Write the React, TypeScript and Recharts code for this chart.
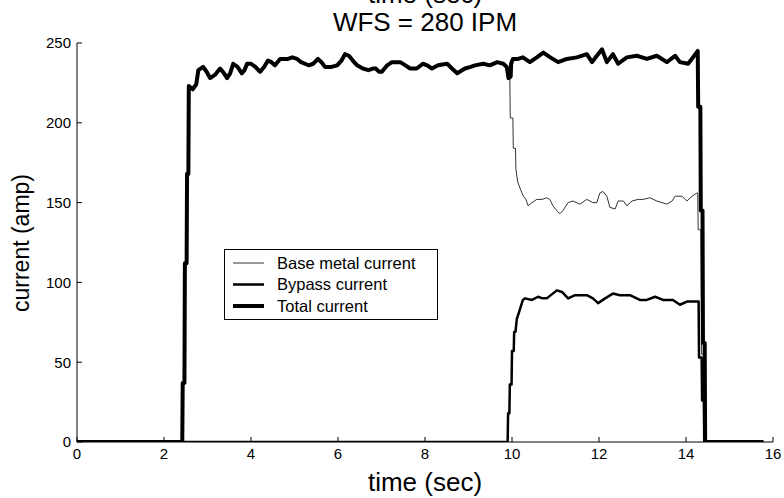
import { Legend, Line, LineChart, XAxis, YAxis } from "recharts";

// time in seconds, current in amps
const xTicks = [0, 2, 4, 6, 8, 10, 12, 14, 16];
const yTicks = [0, 50, 100, 150, 200, 250];

const totalTime = [
  0, 2.42, 2.43, 2.47, 2.48, 2.52, 2.53, 2.56, 2.57, 2.66, 2.74, 2.79, 2.9, 2.98, 3.06, 3.17, 3.29, 3.38,
  3.45, 3.52, 3.59, 3.69, 3.79, 3.85, 3.91, 4.0, 4.1, 4.21, 4.3, 4.39, 4.47, 4.55, 4.67, 4.85, 4.95,
  5.06, 5.15, 5.24, 5.33, 5.43, 5.54, 5.62, 5.7, 5.85, 5.98, 6.08, 6.16, 6.25, 6.34, 6.44, 6.57, 6.7,
  6.8, 6.87, 6.94, 7.01, 7.13, 7.24, 7.43, 7.55, 7.66, 7.81, 7.95, 8.05, 8.16, 8.3, 8.51, 8.62, 8.74,
  8.92, 9.05, 9.15, 9.34, 9.49, 9.66, 9.8, 9.88, 9.92, 9.97, 9.98, 10.02, 10.14, 10.25, 10.41, 10.57,
  10.72, 10.88, 11.06, 11.26, 11.49, 11.72, 11.84, 11.95, 12.07, 12.18, 12.32, 12.44, 12.64, 12.87,
  13.1, 13.33, 13.56, 13.75, 13.86, 14.05, 14.16, 14.27, 14.28, 14.33, 14.34, 14.38, 14.39, 14.43,
  14.44, 15.78,
];
const totalAmp = [
  0, 0, 37, 37, 112, 112, 168, 168, 223, 221, 224, 233, 235, 232, 228, 230, 234, 231,
  228, 231, 237, 235, 231, 233, 237, 237, 235, 232, 235, 239, 238, 236, 240, 240, 241,
  240, 238, 237, 236, 237, 240, 238, 235, 235, 236, 239, 243, 242, 239, 236, 234, 233,
  234, 234, 232, 232, 236, 238, 238, 236, 234, 234, 237, 236, 234, 236, 237, 234, 231,
  234, 235, 236, 237, 236, 238, 237, 235, 228, 229, 237, 240, 240, 241, 238, 241,
  244, 241, 238, 240, 241, 243, 238, 242, 246, 238, 243, 237, 241, 242,
  240, 242, 238, 242, 238, 237, 241, 245, 210, 210, 145, 145, 62, 62,
  0, 0,
];

const baseTime = [
  0, 2.42, 2.43, 2.47, 2.48, 2.52, 2.53, 2.56, 2.57, 2.66, 2.74, 2.79, 2.9, 2.98, 3.06, 3.17, 3.29, 3.38,
  3.45, 3.52, 3.59, 3.69, 3.79, 3.85, 3.91, 4.0, 4.1, 4.21, 4.3, 4.39, 4.47, 4.55, 4.67, 4.85, 4.95,
  5.06, 5.15, 5.24, 5.33, 5.43, 5.54, 5.62, 5.7, 5.85, 5.98, 6.08, 6.16, 6.25, 6.34, 6.44, 6.57, 6.7,
  6.8, 6.87, 6.94, 7.01, 7.13, 7.24, 7.43, 7.55, 7.66, 7.81, 7.95, 8.05, 8.16, 8.3, 8.51, 8.62, 8.74,
  8.92, 9.05, 9.15, 9.34, 9.49, 9.66, 9.8, 9.88, 9.92, 9.95, 9.96, 10.02, 10.03, 10.08, 10.09, 10.13,
  10.2, 10.26, 10.32, 10.37, 10.46, 10.57, 10.69, 10.8, 10.87, 10.94, 11.03, 11.1, 11.17, 11.29, 11.4,
  11.56, 11.72, 11.86, 11.95, 12.02, 12.09, 12.18, 12.25, 12.37, 12.44, 12.56, 12.64, 12.76, 12.9,
  13.01, 13.17, 13.33, 13.45, 13.56, 13.68, 13.75, 13.91, 14.02, 14.14, 14.25, 14.27, 14.28, 14.34,
  14.36, 14.42, 14.44, 15.78,
];
const baseAmp = [
  0, 0, 37, 37, 112, 112, 168, 168, 223, 221, 224, 233, 235, 232, 228, 230, 234, 231,
  228, 231, 237, 235, 231, 233, 237, 237, 235, 232, 235, 239, 238, 236, 240, 240, 241,
  240, 238, 237, 236, 237, 240, 238, 235, 235, 236, 239, 243, 242, 239, 236, 234, 233,
  234, 234, 232, 232, 236, 238, 238, 236, 234, 234, 237, 236, 234, 236, 237, 234, 231,
  234, 235, 236, 237, 236, 238, 237, 235, 228, 228, 203, 203, 184, 184, 171, 163,
  158, 154, 152, 148, 150, 152, 152, 153, 152, 148, 145, 143, 145, 150, 151,
  149, 152, 150, 150, 156, 157, 154, 147, 146, 151, 151, 148, 151, 152,
  152, 153, 151, 150, 149, 151, 154, 154, 151, 154, 156, 156, 133, 133,
  55, 55, 0, 0,
];

const bypassTime = [
  0, 9.9, 9.91, 9.94, 9.95, 9.99, 10.0, 10.04, 10.05, 10.08, 10.11, 10.18, 10.25, 10.3, 10.46, 10.6,
  10.7, 10.8, 11.03, 11.15, 11.29, 11.45, 11.72, 11.86, 11.98, 12.14, 12.32, 12.48, 12.71, 12.94, 13.1,
  13.29, 13.47, 13.7, 13.86, 14.02, 14.25, 14.29, 14.3, 14.36, 14.37, 14.41, 14.42, 15.78,
];
const bypassAmp = [
  0, 0, 18, 18, 36, 36, 57, 57, 69, 69, 77, 83, 89, 90, 89, 91,
  90, 90, 95, 94, 90, 92, 92, 90, 87, 90, 93, 92, 92, 89, 89,
  91, 89, 89, 86, 88, 88, 88, 53, 53, 26, 26, 0, 0,
];

const toPoints = (time: number[], amp: number[]) =>
  time.map((t, i) => ({ t, amp: amp[i] }));

const series = [
  { name: "Base metal current", data: toPoints(baseTime, baseAmp), color: "#333333", width: 1 },
  { name: "Bypass current", data: toPoints(bypassTime, bypassAmp), color: "#000000", width: 2.5 },
  { name: "Total current", data: toPoints(totalTime, totalAmp), color: "#000000", width: 4 },
];

const font = "'Liberation Sans', Arial, Helvetica, sans-serif";
const tickStyle = { fill: "#000", fontSize: 15, fontFamily: font };

function LegendBox() {
  return (
    <svg width={214} height={71} style={{ display: "block" }}>
      <rect x={0.5} y={0.5} width={213} height={70} fill="#fff" stroke="#000" />
      {series.map((s, i) => {
        const cy = 14 + i * 21.5;
        return (
          <g key={s.name}>
            <line x1={9} x2={40} y1={cy} y2={cy} stroke={s.color} strokeWidth={s.width} />
            <text x={53} y={cy + 5.5} fontSize={16.5} fontFamily={font} fill="#000">
              {s.name}
            </text>
          </g>
        );
      })}
    </svg>
  );
}

export default function App() {
  return (
    <div
      style={{
        position: "absolute",
        left: 0,
        top: 0,
        width: 784,
        height: 498,
        background: "#fff",
        fontFamily: font,
      }}
    >
      <LineChart width={784} height={498} margin={{ top: 43, right: 11, bottom: 0, left: 0 }}>
        <XAxis
          xAxisId="bottom"
          dataKey="t"
          type="number"
          domain={[0, 16]}
          ticks={xTicks}
          interval={0}
          allowDataOverflow
          tickSize={-5}
          tickMargin={11}
          height={56}
          stroke="#000"
          tick={tickStyle}
        />
        <XAxis
          xAxisId="top"
          orientation="top"
          type="number"
          domain={[0, 16]}
          ticks={xTicks}
          interval={0}
          allowDataOverflow
          tickSize={-5}
          height={0}
          stroke="#000"
          tick={false}
        />
        <YAxis
          yAxisId="left"
          type="number"
          domain={[0, 250]}
          ticks={yTicks}
          interval={0}
          allowDataOverflow
          tickSize={-5}
          tickMargin={11}
          width={77}
          stroke="#000"
          tick={tickStyle}
        />
        <YAxis
          yAxisId="right"
          orientation="right"
          type="number"
          domain={[0, 250]}
          ticks={yTicks}
          interval={0}
          allowDataOverflow
          tickSize={-5}
          width={0}
          stroke="#000"
          tick={false}
        />
        <Legend
          layout="vertical"
          align="center"
          verticalAlign="middle"
          wrapperStyle={{ left: 224, top: 249, width: 214, height: 71 }}
          content={() => <LegendBox />}
        />
        {series.map((s) => (
          <Line
            key={s.name}
            xAxisId="bottom"
            yAxisId="left"
            data={s.data}
            dataKey="amp"
            name={s.name}
            type="linear"
            stroke={s.color}
            strokeWidth={s.width}
            strokeLinejoin="round"
            dot={false}
            activeDot={false}
            isAnimationActive={false}
          />
        ))}
        <text x={425} y={3} textAnchor="middle" fontSize={26} fill="#000">
          time (sec)
        </text>
        <text x={425} y={31} textAnchor="middle" fontSize={26} fill="#000">
          WFS = 280 IPM
        </text>
        <text x={425} y={491} textAnchor="middle" fontSize={26} fill="#000">
          time (sec)
        </text>
        <text
          x={29}
          y={243}
          textAnchor="middle"
          fontSize={23}
          fill="#000"
          transform="rotate(-90, 29, 243)"
        >
          current (amp)
        </text>
      </LineChart>
    </div>
  );
}
